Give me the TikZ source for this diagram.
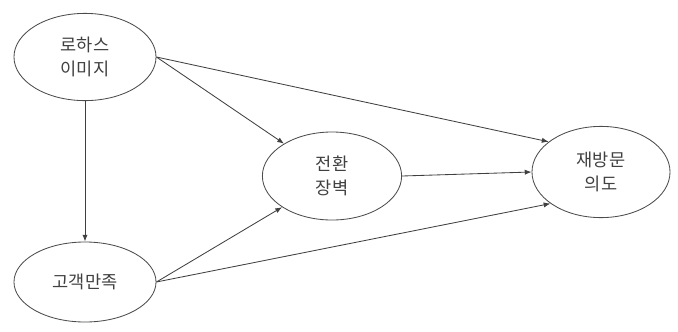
\documentclass[tikz,border=0pt]{standalone}
\usepackage{fontspec}
\newfontfamily\krfont{Noto Sans CJK KR}
\usetikzlibrary{arrows.meta,shapes.geometric}

\begin{document}
\begin{tikzpicture}[x=0.025cm,y=-0.025cm,>=Latex,
  construct/.style={draw=black!70,line width=0.6pt,ellipse,inner sep=0pt,
    align=center,text=black!75,font=\krfont\fontsize{12.5}{17}\selectfont},
  path/.style={draw=black!75,line width=0.6pt,-{Latex[length=1.7mm,width=1.3mm]}}]
\useasboundingbox (0,0) rectangle (678,331);
\node[construct,minimum width=3.55cm,minimum height=2.18cm] (lohas) at (85,57) {로하스\\이미지};
\node[construct,minimum width=3.55cm,minimum height=2.0cm] (satis) at (85,282) {고객만족};
\node[construct,minimum width=3.48cm,minimum height=2.2cm] (barrier) at (332,176) {전환\\장벽};
\node[construct,minimum width=3.45cm,minimum height=2.28cm] (revisit) at (601,172) {재방문\\의도};
\draw[path] (lohas.south)--(satis.north);
\draw[path] (lohas.east)--(barrier.146);
\draw[path] (lohas.east)--(revisit.150);
\draw[path] (satis.east)--(barrier.212);
\draw[path] (satis.east)--(revisit.212);
\draw[path] (barrier.east)--(revisit.west);
\end{tikzpicture}
\end{document}
